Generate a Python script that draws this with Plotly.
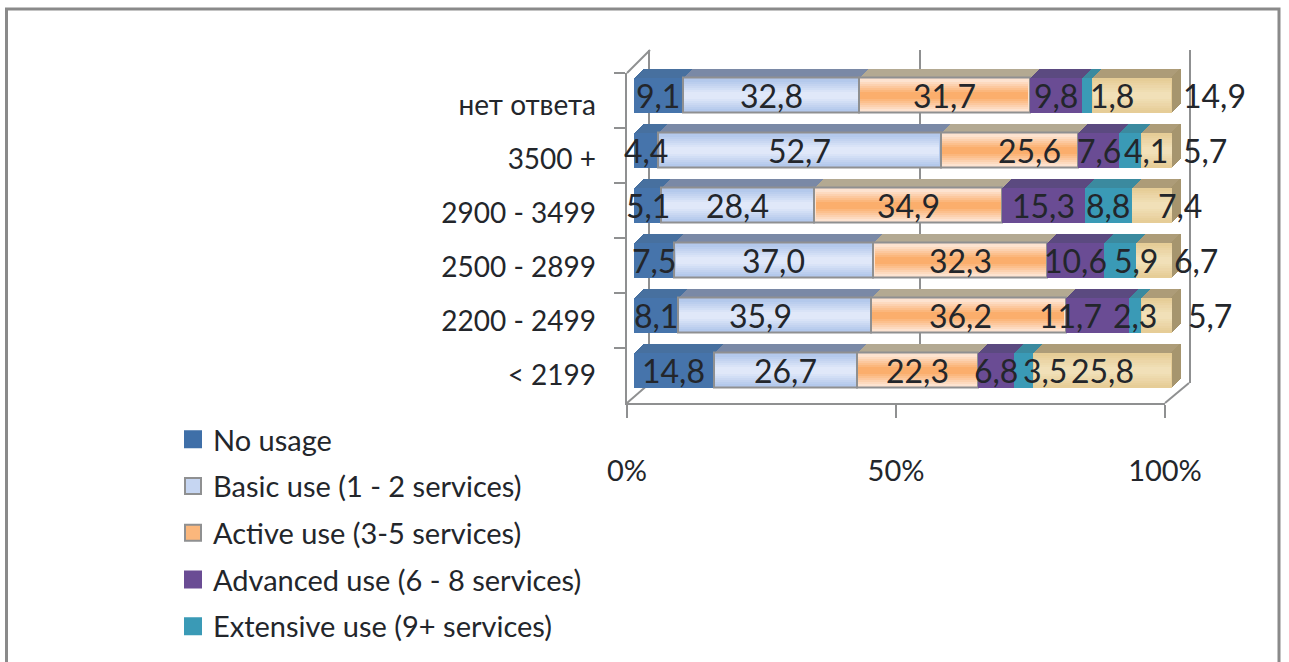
import plotly.graph_objects as go

categories = ["нет ответа", "3500 +", "2900 - 3499", "2500 - 2899", "2200 - 2499", "< 2199"]
series_names = ["No usage", "Basic use (1 - 2 services)", "Active use (3-5 services)",
                "Advanced use (6 - 8 services)", "Extensive use (9+ services)", "No answer"]
no_usage = [9.1, 4.4, 5.1, 7.5, 8.1, 14.8]
basic_use = [32.8, 52.7, 28.4, 37.0, 35.9, 26.7]
active_use = [31.7, 25.6, 34.9, 32.3, 36.2, 22.3]
advanced_use = [9.8, 7.6, 15.3, 10.6, 11.7, 6.8]
extensive_use = [1.8, 4.1, 8.8, 5.9, 2.3, 3.5]
no_answer = [14.9, 5.7, 7.4, 6.7, 5.7, 25.8]
series = [no_usage, basic_use, active_use, advanced_use, extensive_use, no_answer]

# moved labels: (row, series) -> shift in axis units
label_nudge = {(0, 4): 4.7, (0, 5): 15.4, (1, 2): 3.7, (1, 4): 3, (1, 5): 9, (2, 5): 5.2,
               (3, 4): 3, (3, 5): 7.8, (4, 1): -2.6, (4, 2): -1.5, (4, 3): -5, (4, 5): 10,
               (5, 4): 4}

W, H = 1289, 662
FONT = "Lato, Noto Sans, sans-serif"
INK = "#23262b"
GREY = "#8f9091"
DEPTH = 9

top_colors = ["#47709f", "#7a89a6", "#b3a992", "#5b4a80", "#3b8a9f", "#ad9c78"]
side_color = "#a6956e"
# front-face gradient per series, edge -> centre
face_colors = [("#4674ab", "#4674ab"), ("#b4c9ec", "#e0e8f9"), ("#fde3d0", "#fbae6c"),
               ("#6a4c94", "#6a4c94"), ("#3a9ab6", "#3a9ab6"), ("#e6cd97", "#f1e0b8")]
GRAD_STEPS = 7


def mix(a, b, t):
    ca = [int(a[i:i + 2], 16) for i in (1, 3, 5)]
    cb = [int(b[i:i + 2], 16) for i in (1, 3, 5)]
    return "#%02x%02x%02x" % tuple(round(p + (q - p) * t) for p, q in zip(ca, cb))


totals = [sum(s[r] for s in series) for r in range(6)]
norm = [[s[r] * 100 / totals[r] for r in range(6)] for s in series]
bases = []
running = [0.0] * 6
for s in norm:
    bases.append(list(running))
    running = [a + b for a, b in zip(running, s)]


def xd(l, r):
    return [l / W, r / W]


def yd(t, b):
    return [1 - b / H, 1 - t / H]


fig = go.Figure()
layout = dict(
    width=W, height=H, autosize=False, margin=dict(l=0, r=0, t=0, b=0, autoexpand=False),
    paper_bgcolor="white", plot_bgcolor="rgba(0,0,0,0)", barmode="overlay",
    font=dict(family=FONT, color=INK), showlegend=True, hovermode=False,
    bargap=0,
)
n = 0


def new_axes(left, right, top, bottom, xopts=None, yopts=None):
    global n
    n += 1
    sx = "" if n == 1 else str(n)
    xo = dict(domain=xd(left, right), range=[0, 100], anchor="y" + sx, showgrid=False,
              zeroline=False, showticklabels=False, ticks="", showline=False)
    yo = dict(domain=yd(top, bottom), type="category", categoryorder="array",
              categoryarray=categories, range=[5.5, -0.5], anchor="x" + sx, showgrid=False,
              zeroline=False, showticklabels=False, ticks="", showline=False)
    xo.update(xopts or {})
    yo.update(yopts or {})
    layout["xaxis" + sx] = xo
    layout["yaxis" + sx] = yo
    return "x" + sx, "y" + sx


def anchor_trace(ax, ay):
    fig.add_trace(go.Scatter(x=[None], y=[categories[0]], xaxis=ax, yaxis=ay,
                             mode="markers", showlegend=False, hoverinfo="skip"))


# back wall
ax, ay = new_axes(650, 1189, 50, 383,
                  xopts=dict(showgrid=True, gridcolor=GREY, gridwidth=2, dtick=50, tick0=0),
                  yopts=dict(showline=True, mirror=True, linecolor=GREY, linewidth=2))
anchor_trace(ax, ay)
# floor front, ticks and value labels
ax, ay = new_axes(627, 1165, 73, 403,
                  xopts=dict(showline=True, linecolor=GREY, linewidth=2, ticks="outside",
                             ticklen=13, tickwidth=2, tickcolor=GREY, dtick=50, tick0=0,
                             showticklabels=True, ticksuffix="%", ticklabelstandoff=28,
                             tickfont=dict(size=29, color=INK, family=FONT)),
                  yopts=dict(showline=True, linecolor=GREY, linewidth=2, ticks="outside",
                             ticklen=11, tickwidth=2, tickcolor=GREY, tickson="boundaries"))
anchor_trace(ax, ay)
# category labels
ax, ay = new_axes(627, 1165, 78, 402,
                  yopts=dict(showticklabels=True, ticklabelstandoff=30,
                             tickfont=dict(size=28, color=INK, family=FONT)))
anchor_trace(ax, ay)

# extruded depth, back to front
BAR = 0.62
for k in range(DEPTH, 0, -1):
    ax, ay = new_axes(634 + k, 1172 + k, 67.5 - k, 397.5 - k)
    for i, s in enumerate(norm):
        fig.add_trace(go.Bar(x=s, base=bases[i], y=categories, orientation="h", width=BAR,
                             xaxis=ax, yaxis=ay, marker=dict(color=top_colors[i], line_width=0),
                             showlegend=False, hoverinfo="skip"))
    fig.add_trace(go.Bar(x=[0.4] * 6, base=[100 - 0.4] * 6, y=categories, orientation="h", width=BAR,
                         xaxis=ax, yaxis=ay, marker=dict(color=side_color, line_width=0),
                         showlegend=False, hoverinfo="skip"))

# front faces
ax, ay = new_axes(634, 1172, 67.5, 397.5)
for i, s in enumerate(norm):
    edge, centre = face_colors[i]
    outlined = i in (1, 2)
    fig.add_trace(go.Bar(x=s, base=bases[i], y=categories, orientation="h", width=BAR,
                         xaxis=ax, yaxis=ay,
                         marker=dict(color=edge, line=dict(color=GREY, width=2 if outlined else 0)),
                         showlegend=False, hoverinfo="skip"))
    if edge != centre:
        for g in range(1, GRAD_STEPS):
            t = g / (GRAD_STEPS - 1)
            inset = 0.9 if outlined else 1.0
            fig.add_trace(go.Bar(x=[v * 0.985 for v in s], base=[b + v * 0.0075 for b, v in zip(bases[i], s)],
                                 y=categories, orientation="h",
                                 width=BAR * inset * (1 - t * 0.8),
                                 xaxis=ax, yaxis=ay, marker=dict(color=mix(edge, centre, t), line_width=0),
                                 showlegend=False, hoverinfo="skip"))

# legend entries
legend_swatch = ["#3f6fa8", "#c6d6f2", "#fbb77c", "#6a4c94", "#3a9ab6"]
legend_edge = ["#3f6fa8", GREY, GREY, "#6a4c94", "#3a9ab6"]
for i in range(5):
    fig.add_trace(go.Scatter(x=[None], y=[categories[0]], xaxis=ax, yaxis=ay, mode="markers",
                             name=series_names[i], legendgroup=str(i),
                             marker=dict(symbol="square", size=16, color=legend_swatch[i],
                                         line=dict(color=legend_edge[i], width=2)),
                             hoverinfo="skip"))

# value labels sit on a wider axis of the same scale, since some lie right of 100%
EXT = 120
label_x, label_y = new_axes(634, 634 + (1172 - 634) * EXT / 100, 67.5, 397.5,
                            xopts=dict(range=[0, EXT]))
anchor_trace(label_x, label_y)
annotations = []
for i, s in enumerate(norm):
    for r in range(6):
        annotations.append(dict(
            x=bases[i][r] + s[r] / 2 + label_nudge.get((r, i), 0), y=categories[r],
            xref=label_x, yref=label_y, showarrow=False,
            text=f"{series[i][r]:.1f}".replace(".", ","),
            font=dict(size=32, color=INK, family=FONT)))

layout["annotations"] = annotations
layout["legend"] = dict(x=173 / W, y=1 - 414 / H, xanchor="left", yanchor="top", tracegroupgap=6,
                        traceorder="grouped", font=dict(size=29, color=INK, family=FONT),
                        bgcolor="rgba(0,0,0,0)", itemsizing="trace", itemwidth=30)


def px_line(x0, y0, x1, y1):
    return dict(type="line", xref="paper", yref="paper", x0=x0 / W, x1=x1 / W,
                y0=1 - y0 / H, y1=1 - y1 / H, line=dict(color=GREY, width=2), layer="below")


layout["shapes"] = [
    px_line(627, 403, 650, 383), px_line(1165, 403, 1189, 383), px_line(627, 73, 650, 50),
    dict(type="rect", xref="paper", yref="paper", x0=6.5 / W, x1=1279 / W, y0=-0.05, y1=1 - 9 / H,
         line=dict(color="#8a8a8a", width=3), fillcolor="rgba(0,0,0,0)", layer="below"),
]
fig.update_layout(**layout)
fig.write_html("out.html", config=dict(displayModeBar=False),
               post_script="document.body.style.margin='0';document.body.style.overflow='hidden';")
